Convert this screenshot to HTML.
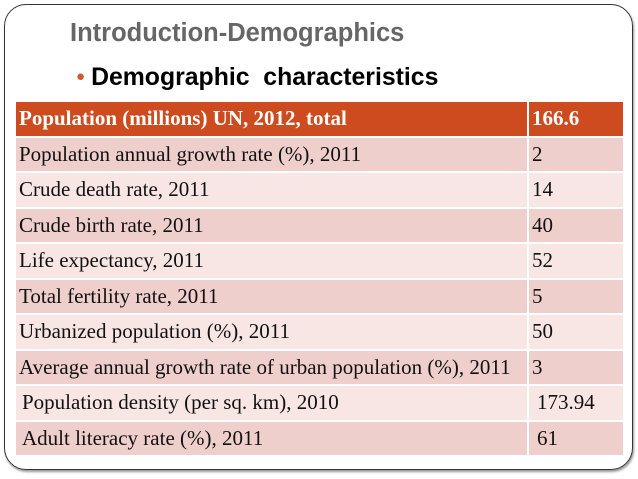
<!DOCTYPE html>
<html><head><meta charset="utf-8"><style>
body{margin:0;width:638px;height:479px;background:#fff;position:relative;overflow:hidden;font-family:"Liberation Sans",sans-serif}
#frame{position:absolute;left:4px;top:4px;width:627px;height:464px;border:1.5px solid #333;border-radius:22px;box-shadow:1px 2px 2px #999}
#title{position:absolute;left:70px;top:19px;font-size:25.5px;font-weight:bold;color:#666}
#bullet{position:absolute;left:76px;top:64px;font-size:24.8px;font-weight:bold;color:#000;white-space:pre}
#bullet span{color:#d05a28;font-size:15px;vertical-align:4px;margin-right:6px}
table{position:absolute;left:16px;top:102px;width:607px;border-collapse:collapse;font-family:"Liberation Serif",serif;font-size:21px;color:#111}
td{height:33.5px;padding:0 0 0 3px;border:2px solid #fff;border-top:none;border-left:none;vertical-align:middle;white-space:nowrap}
td:last-child{border-right:none;width:86px}
tr.h td{background:#cd4b1e;color:#fff;font-weight:bold}
tr.a td{background:#efcfcc}
tr.b td{background:#f7e6e4}
tr.i td{padding-left:6px}
tr.i td:last-child{padding-left:8px}
</style></head><body>
<div id="frame"></div>
<div id="title">Introduction-Demographics</div>
<div id="bullet"><span>●</span>Demographic  characteristics</div>
<table>
<tr class="h"><td>Population (millions) UN, 2012, total</td><td>166.6</td></tr>
<tr class="a"><td>Population annual growth rate (%), 2011</td><td>2</td></tr>
<tr class="b"><td>Crude death rate, 2011</td><td>14</td></tr>
<tr class="a"><td>Crude birth rate, 2011</td><td>40</td></tr>
<tr class="b"><td>Life expectancy, 2011</td><td>52</td></tr>
<tr class="a"><td>Total fertility rate, 2011</td><td>5</td></tr>
<tr class="b"><td>Urbanized population (%), 2011</td><td>50</td></tr>
<tr class="a"><td>Average annual growth rate of urban population (%), 2011</td><td>3</td></tr>
<tr class="b i"><td>Population density (per sq. km), 2010</td><td>173.94</td></tr>
<tr class="a i"><td>Adult literacy rate (%), 2011</td><td>61</td></tr>
</table>
</body></html>
